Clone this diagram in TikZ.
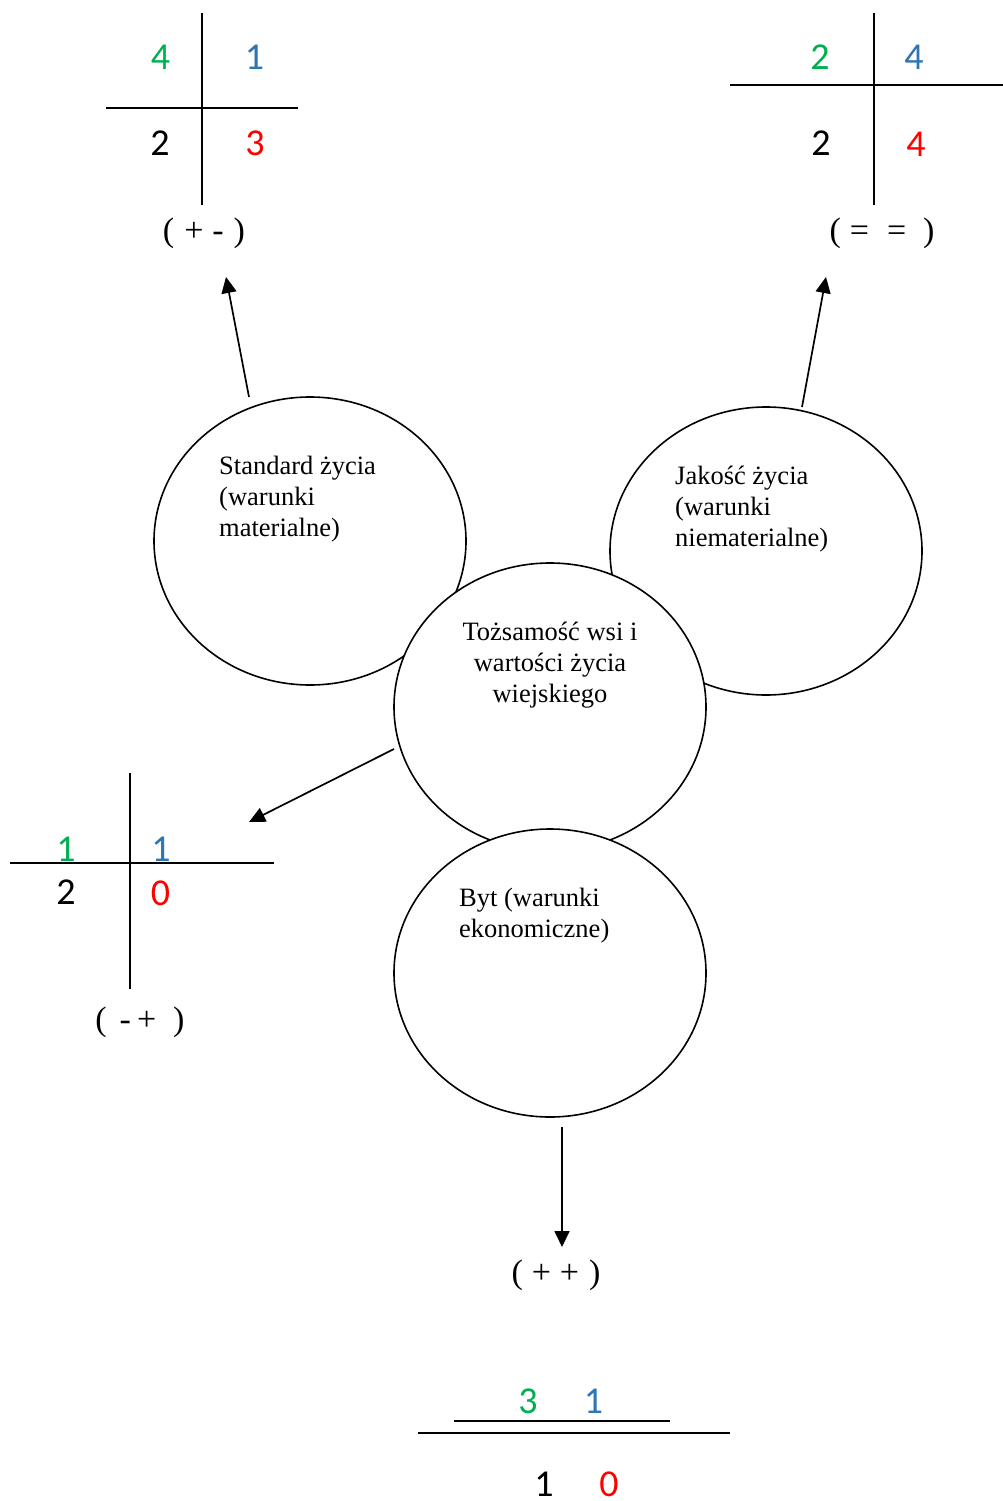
\documentclass[tikz,border=0pt]{standalone}
\usepackage{fontspec}
\setmainfont{Liberation Serif}
\newfontfamily\numfont{Carlito}
\usetikzlibrary{shapes.geometric,arrows.meta}
\definecolor{cgreen}{HTML}{00B050}
\definecolor{cblue}{HTML}{2E75B6}
\definecolor{cred}{HTML}{FF0000}
\tikzset{
  circ/.style={ellipse,draw,line width=1.6pt,fill=white,minimum width=312pt,minimum height=288pt,inner sep=0pt},
  ctext/.style={inner sep=0pt,font=\fontsize{26.5}{31}\selectfont},
  num/.style={inner sep=0pt,font=\numfont\fontsize{38}{40}\selectfont},
  sign/.style={inner sep=0pt,font=\fontsize{34}{38}\selectfont},
  crossline/.style={line width=1.8pt},
  arr/.style={line width=1.7pt,-{Triangle[length=16pt,width=15pt]}}
}
\begin{document}
\begin{tikzpicture}[x=1pt,y=-1pt]
\useasboundingbox (0,0) rectangle (1003,1501);

% circles
\node[circ] (L) at (310,541) {};
\node[circ] (R) at (766,551) {};
\node[circ] (C) at (550,707) {};
\node[circ] (B) at (550,973) {};

\node[ctext,anchor=north west,align=left] (Lt) at (219,456) {Standard życia\\(warunki\\materialne)};
\node[ctext,anchor=north west,align=left] (Rt) at (675,466) {Jakość życia\\(warunki\\niematerialne)};
\node[ctext,anchor=north,align=center] (Ct) at (550,622) {Tożsamość wsi i\\wartości życia\\wiejskiego};
\node[ctext,anchor=north west,align=left] (Bt) at (459,888) {Byt (warunki\\ekonomiczne)};

% top-left cross
\draw[crossline] (202,13) -- (202,205);
\draw[crossline] (106,108) -- (298,108);
\node[num,text=cgreen] (n1) at (160.5,57.5) {4};
\node[num,text=cblue] (n2) at (254.5,57.5) {1};
\node[num] (n3) at (160,143) {2};
\node[num,text=cred] (n4) at (255,143) {3};
\node[sign] (s1) at (204,233) {(\hspace{10pt}+\hspace{9pt}-\hspace{10pt})};

% top-right cross
\draw[crossline] (874,13) -- (874,205);
\draw[crossline] (730,85) -- (1003,85);
\node[num,text=cgreen] (n5) at (820,57) {2};
\node[num,text=cblue] (n6) at (914,57) {4};
\node[num] (n7) at (821,143.5) {2};
\node[num,text=cred] (n8) at (916,144) {4};
\node[sign] (s2) at (882,233) {(\hspace{9pt}=\hspace{18pt}=\hspace{17pt})};

% bottom-left cross
\draw[crossline] (130,773) -- (130,989);
\draw[crossline] (10,863) -- (274,863);
\node[num,text=cgreen] (n9) at (66,849) {1};
\node[num,text=cblue] (n10) at (161,849) {1};
\node[num] (n11) at (66,892) {2};
\node[num,text=cred] (n12) at (160.5,893) {0};
\node[sign] (s3) at (140,1022) {(\hspace{13pt}-\hspace{6pt}+\hspace{17pt})};

% bottom
\node[sign] (s4) at (556,1275) {(\hspace{9pt}+\hspace{9pt}+\hspace{10pt})};
\draw[crossline] (454,1421) -- (670,1421);
\draw[crossline] (418,1433) -- (730,1433);
\node[num,text=cgreen] (n13) at (528,1401) {3};
\node[num,text=cblue] (n14) at (593.5,1401) {1};
\node[num] (n15) at (544,1484) {1};
\node[num,text=cred] (n16) at (609,1484) {0};

% arrows
\coordinate (a1s) at (249,397);
\coordinate (a1e) at (226,277);
\coordinate (a2s) at (802,407);
\coordinate (a2e) at (826,277);
\coordinate (a3s) at (394,749);
\coordinate (a3e) at (249,822);
\coordinate (a4s) at (562,1127);
\coordinate (a4e) at (562,1247);
\draw[arr] (a1s) -- (a1e);
\draw[arr] (a2s) -- (a2e);
\draw[arr] (a3s) -- (a3e);
\draw[arr] (a4s) -- (a4e);
\end{tikzpicture}
\end{document}
